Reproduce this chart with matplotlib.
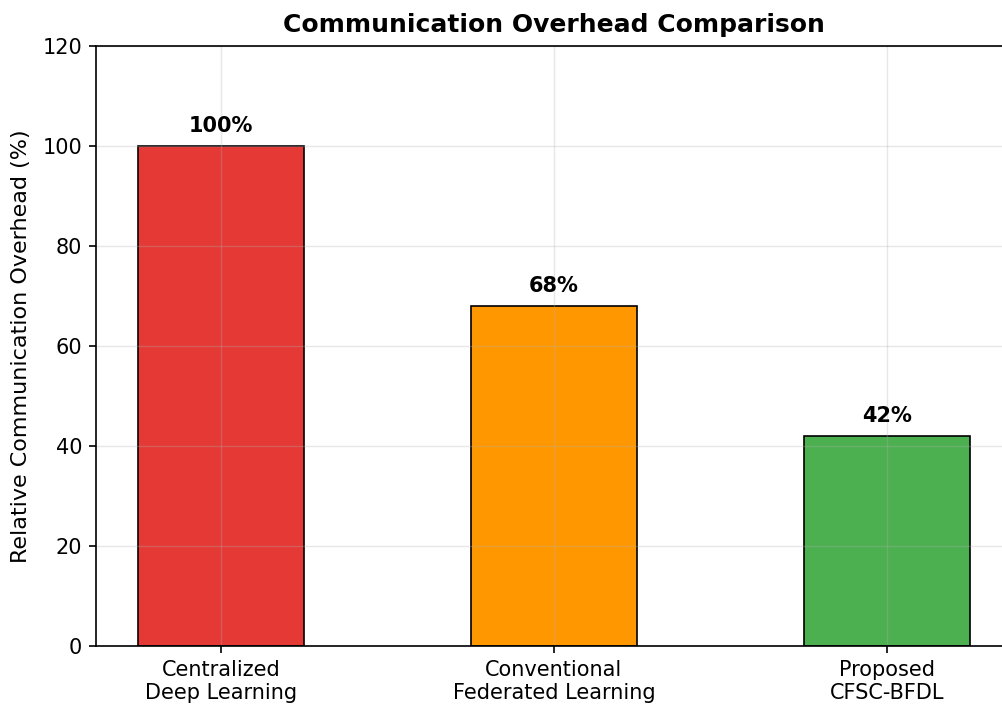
import matplotlib.pyplot as plt
import numpy as np

# Data
methods = ['Centralized\nDeep Learning', 'Conventional\nFederated Learning', 'Proposed\nCFSC-BFDL']
overhead = [100, 68, 42]
bar_colors = ['#e53935', '#ff9800', '#4caf50']

fig = plt.figure(figsize=(10.02, 7.04), dpi=100)
# axes runs past the right edge, like the cropped original
ax = fig.add_axes([96 / 1002, 1 - 646 / 704, (1012 - 96) / 1002, 600 / 704])

x = np.arange(len(methods))
bars = ax.bar(x, overhead, width=0.5, color=bar_colors, edgecolor='black', linewidth=1.2)

for b, v in zip(bars, overhead):
    ax.text(b.get_x() + b.get_width() / 2, v + 2, f'{v}%', ha='center', va='bottom',
            fontsize=15, fontweight='bold')

ax.set_xticks(x)
ax.set_xticklabels(methods, fontsize=15)
ax.tick_params(axis='y', labelsize=15)
ax.tick_params(length=5, width=1.2, pad=5)
ax.set_ylim(0, 120)
ax.set_xlim(-0.375, 2.375)
ax.set_ylabel('Relative Communication Overhead (%)', fontsize=16, labelpad=8)
ax.set_title('Communication Overhead Comparison', fontsize=18, fontweight='bold', pad=10)
ax.grid(True, alpha=0.3, linewidth=1.0)
for s in ax.spines.values():
    s.set_linewidth(1.2)

fig.savefig('out.png', dpi=100)
